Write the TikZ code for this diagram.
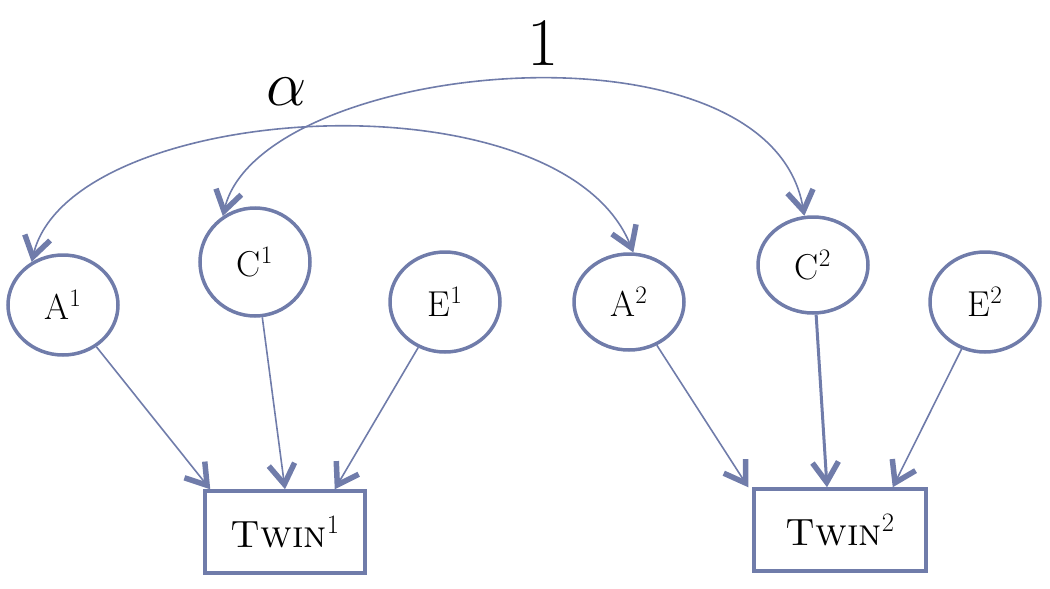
\RequirePackage{fix-cm}
\documentclass[tikz,border=0pt]{standalone}
\usetikzlibrary{arrows.meta,shapes.geometric}
\definecolor{lc}{RGB}{112,124,170}
\begin{document}
\begin{tikzpicture}[x=1pt,y=-1pt,
  latent/.style={ellipse,draw=lc,line width=3.5pt,inner sep=0pt,minimum width=110pt,font=\fontsize{36}{40}\selectfont},
  obs/.style={rectangle,draw=lc,line width=3.5pt,inner sep=0pt,minimum height=82pt,font=\fontsize{38}{42}\selectfont},
  tipa/.tip={Straight Barb[length=20pt,width=26pt,line width=5.5pt]},
  pathline/.style={draw=lc,line width=1.6pt,-tipa},
  dbl/.style={draw=lc,line width=1.6pt,tipa-tipa},
  lbl/.style={inner sep=0pt}
]
\useasboundingbox (0,0) rectangle (1050,589);
\node[latent,minimum height=100pt] (A1) at (63,305) {A\textsuperscript{1}};
\node[latent,minimum height=108pt] (C1) at (255,262) {C\textsuperscript{1}};
\node[latent,minimum height=100pt] (E1) at (445,302) {E\textsuperscript{1}};
\node[latent,minimum height=96pt] (A2) at (629,302) {A\textsuperscript{2}};
\node[latent,minimum height=96pt] (C2) at (813,265) {C\textsuperscript{2}};
\node[latent,minimum height=100pt] (E2) at (985,302) {E\textsuperscript{2}};
\node[obs,minimum width=160pt] (T1) at (285,532) {\textsc{Twin}\textsuperscript{1}};
\node[obs,minimum width=172pt] (T2) at (840,530) {\textsc{Twin}\textsuperscript{2}};

\draw[pathline] (A1) -- ([xshift=7pt]T1.north west);
\draw[pathline] (C1) -- (T1.north);
\draw[pathline] (E1) -- ([xshift=-32pt]T1.north east);
\draw[pathline] (A2) -- ([xshift=-4pt]T2.north west);
\draw[pathline,line width=3pt] (C2) -- ([xshift=-13pt]T2.north);
\draw[pathline] (E2) -- ([xshift=-35pt]T2.north east);

\draw[dbl] (A1.126) .. controls (70,100) and (560,70) .. (A2.85);
\draw[dbl] (C1.125) .. controls (260,60) and (770,10) .. (C2.100);

\node[lbl,font=\fontsize{64}{70}\selectfont] (alpha) at (287,92) {$\alpha$};
\node[lbl,font=\fontsize{68}{74}\selectfont] (one) at (543,43) {1};
\end{tikzpicture}
\end{document}
